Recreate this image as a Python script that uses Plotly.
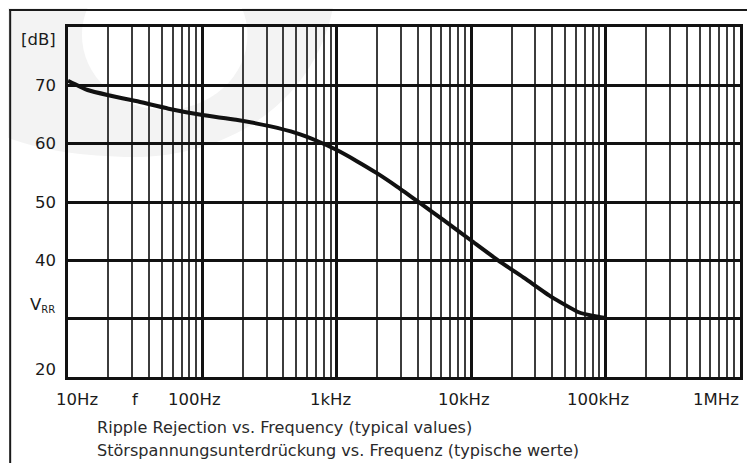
import math
import plotly.graph_objects as go

# ---- data ----
freq_hz = [10, 14, 20, 32, 56, 100, 178, 316, 500, 708, 1000, 1410, 2000,
           2820, 4000, 6310, 10000, 15850, 25100, 39800, 63100, 79400, 100000]
rejection_db = [70.8, 69.2, 68.3, 67.3, 66.0, 64.9, 64.1, 63.0, 61.8, 60.5, 58.9, 57.0, 54.9,
                52.6, 50.1, 46.8, 43.4, 40.0, 36.9, 33.7, 31.1, 30.5, 30.1]

decade_vals = [10, 100, 1000, 10000, 100000, 1000000]
decade_labels = ["10Hz", "100Hz", "1kHz", "10kHz", "100kHz", "1MHz"]
minor_vals = [m * d for d in [10, 100, 1000, 10000, 100000] for m in range(2, 10)]
y_grid_vals = [30, 40, 50, 60, 70]
y_labels = ["70", "60", "50", "40"]
y_label_vals = [70, 60, 50, 40]
caption_lines = ["Ripple Rejection vs. Frequency (typical values)",
                 "Störspannungsunterdrückung vs. Frequenz (typische werte)"]

# ---- layout geometry (page pixels; the page body has an 8px margin) ----
OFF = 8
W, H = 755 - OFF, 463 - OFF
PL, PR, PT, PB = 68, 742, 27, 377          # plot area in page pixels
L, T = PL - OFF, PT - OFF
R, B = W - (PR - OFF), H - (PB - OFF)
PW, PH = PR - PL, PB - PT

def px_x(px):
    return (px - PL) / PW

def px_y(py):
    return (PB - py) / PH

FONT = "DejaVu Sans"
INK = "#1a1a1a"

fig = go.Figure()
fig.add_trace(go.Scatter(
    x=freq_hz, y=rejection_db, mode="lines",
    line=dict(color="#111111", width=4, shape="spline", smoothing=0.5),
    hoverinfo="skip", showlegend=False))

fig.update_xaxes(
    type="log", range=[1, 6],
    tickmode="array", tickvals=decade_vals, showticklabels=False, ticks="",
    showgrid=True, gridcolor="#111111", gridwidth=3,
    minor=dict(tickmode="array", tickvals=minor_vals, showgrid=True,
               gridcolor="#3c3c3c", gridwidth=1.5, ticks=""),
    showline=True, linecolor="#111111", linewidth=3, mirror=True,
    zeroline=False)
fig.update_yaxes(
    range=[20, 80], tickmode="array", tickvals=y_grid_vals,
    showticklabels=False, ticks="",
    showgrid=True, gridcolor="#111111", gridwidth=3,
    showline=True, linecolor="#111111", linewidth=3, mirror=True,
    zeroline=False)

ann = []
xshifts = [9, -8, -6, -7, -8, -24]
for v, t, s in zip(decade_vals, decade_labels, xshifts):
    ann.append(dict(x=math.log10(v), xref="x", y=px_y(400), yref="paper",
                    text=t, showarrow=False, xanchor="center", yanchor="middle",
                    xshift=s, font=dict(family=FONT, size=16.5, color=INK)))
ann.append(dict(x=px_x(136), xref="paper", y=px_y(400), yref="paper",
                text="f", showarrow=False, xanchor="center", yanchor="middle",
                font=dict(family=FONT, size=16.5, color=INK)))
for v, t in zip(y_label_vals, y_labels):
    ann.append(dict(x=px_x(58), xref="paper", y=v, yref="y", text=t,
                    showarrow=False, xanchor="right", yanchor="middle",
                    font=dict(family=FONT, size=16.5, color=INK)))
ann.append(dict(x=px_x(58), xref="paper", y=20, yref="y", yshift=8, text="20",
                showarrow=False, xanchor="right", yanchor="middle",
                font=dict(family=FONT, size=16.5, color=INK)))
ann.append(dict(x=px_x(58), xref="paper", y=px_y(39.5), yref="paper", text="[dB]",
                showarrow=False, xanchor="right", yanchor="middle",
                font=dict(family=FONT, size=16.5, color=INK)))
ann.append(dict(x=px_x(57), xref="paper", y=px_y(305), yref="paper",
                text="V<sub><span style='font-size:10px'>RR</span></sub>",
                showarrow=False, xanchor="right", yanchor="middle",
                font=dict(family=FONT, size=16.5, color=INK)))
for i, line in enumerate(caption_lines):
    ann.append(dict(x=px_x(95), xref="paper", y=px_y(427 + 23 * i), yref="paper",
                    text=line, showarrow=False, xanchor="left", yanchor="middle",
                    font=dict(family=FONT, size=16.1, color="#2a2a2a")))

shapes = []
def P(x, y):
    return f"{px_x(x):.5f},{px_y(y):.5f}"
outer = (f"M {P(335,-10)} L {P(335,0)} C {P(322,90)} {P(240,160)} {P(125,157)} "
         f"C {P(60,155)} {P(20,145)} {P(-10,130)} L {P(-10,-10)} Z")
shapes.append(dict(type="path", xref="paper", yref="paper", path=outer,
                   fillcolor="#f3f3f3", line=dict(width=0), layer="below"))
shapes.append(dict(type="circle", xref="paper", yref="paper",
                   x0=px_x(82), x1=px_x(248), y0=px_y(110), y1=px_y(-40),
                   fillcolor="#ffffff", line=dict(width=0), layer="below"))
shapes.append(dict(type="line", xref="paper", yref="paper",
                   x0=px_x(9), x1=px_x(770), y0=px_y(10), y1=px_y(10),
                   line=dict(color=INK, width=2), layer="above"))
shapes.append(dict(type="line", xref="paper", yref="paper",
                   x0=px_x(10), x1=px_x(10), y0=px_y(9), y1=px_y(480),
                   line=dict(color=INK, width=2), layer="above"))

fig.update_layout(
    width=W, height=H, margin=dict(l=L, r=R, t=T, b=B, pad=0),
    paper_bgcolor="#ffffff", plot_bgcolor="rgba(0,0,0,0)",
    showlegend=False, annotations=ann, shapes=shapes,
    font=dict(family=FONT, color=INK))

fig.write_html("out.html")
